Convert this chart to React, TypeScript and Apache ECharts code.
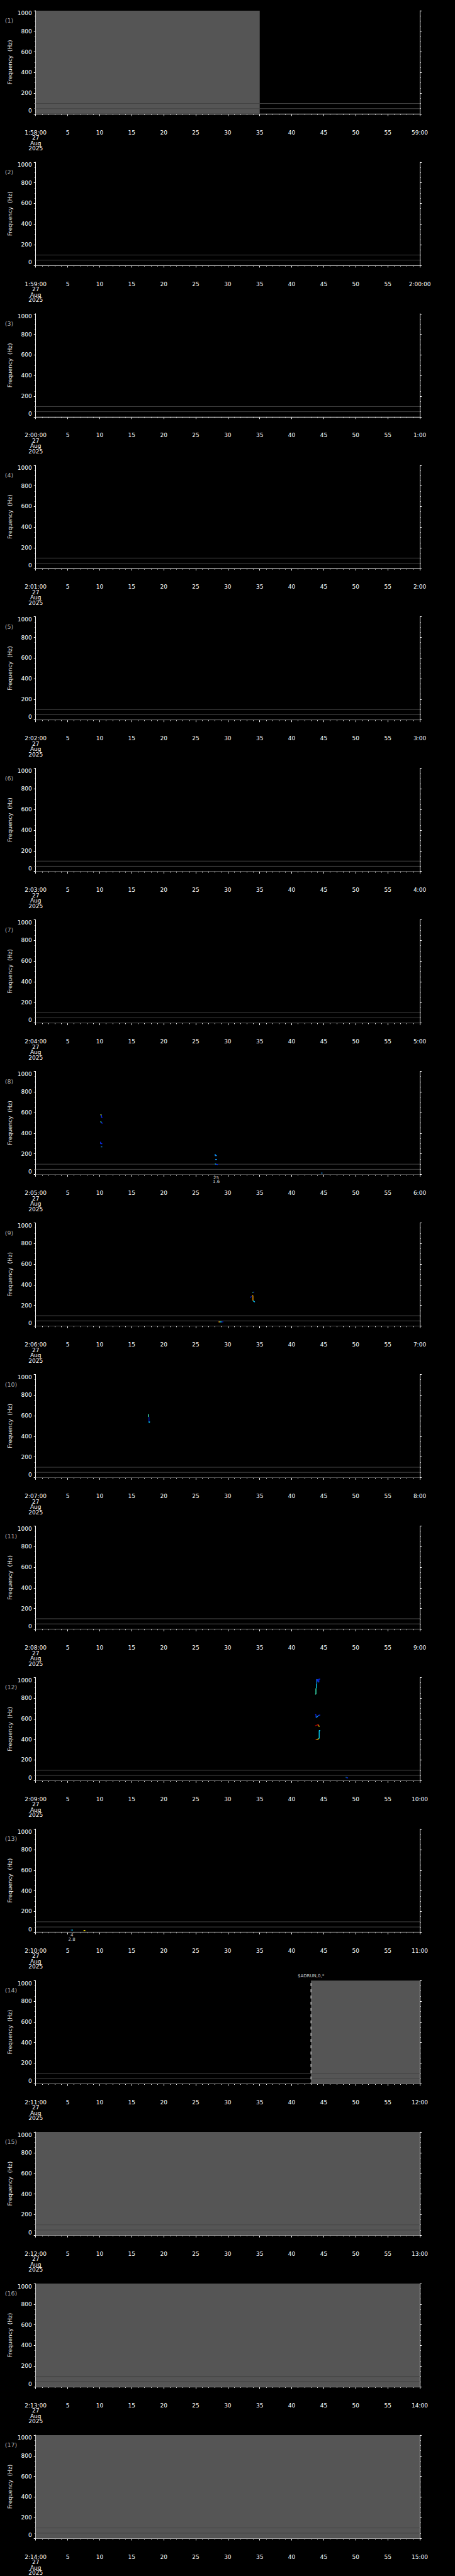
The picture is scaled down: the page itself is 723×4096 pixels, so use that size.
import React, { useEffect, useRef } from "react";
import * as echarts from "echarts";

// ---------- data ----------
const PANEL_COUNT = 17;
const startLabels = [
  "1:58:00", "1:59:00", "2:00:00", "2:01:00", "2:02:00", "2:03:00", "2:04:00", "2:05:00", "2:06:00",
  "2:07:00", "2:08:00", "2:09:00", "2:10:00", "2:11:00", "2:12:00", "2:13:00", "2:14:00",
];
const endLabels = [
  "59:00", "2:00:00", "1:00", "2:00", "3:00", "4:00", "5:00", "6:00", "7:00",
  "8:00", "9:00", "10:00", "11:00", "12:00", "13:00", "14:00", "15:00",
];
const dateLines = ["27", "Aug", "2025"];
const yTitle = "Frequency  (Hz)";

// grey "no data" blocks: [panel, fromSec, toSec]
const greyBlocks: [number, number, number][] = [
  [1, 0, 35],
  [14, 43, 60],
  [15, 0, 60],
  [16, 0, 60],
  [17, 0, 60],
];
// reference lines (Hz)
const refLinesHz = [0, 50, 100];
// dashed marker lines: [panel, sec]
const dashedMarkers: [number, number][] = [[14, 43]];
// text markers above plot: [panel, sec, text]
const topTexts: [number, number, string][] = [[14, 43, "$ADRUN,0,*"]];
// event labels below plot: [panel, sec, line1, line2]
const eventLabels: [number, number, string, string][] = [
  [8, 28.2, "25", "1.6"],
  [13, 5.65, "4", "2.8"],
];

const C = {
  blue: "#0a2cff",
  dblue: "#0010d0",
  lblue: "#1496ff",
  cyan: "#00d8ff",
  aqua: "#40ffc8",
  green: "#50ff80",
  ygreen: "#c0ff40",
  yellow: "#ffe600",
  orange: "#ffa000",
  red: "#e81000",
  dred: "#a00000",
};

type Mark = { p: number; c: string; pts: [number, number][] };

const panel8Marks: Mark[] = [
  { p: 8, c: C.ygreen, pts: [[10.1, 578], [10.3, 578]] },
  { p: 8, c: C.blue, pts: [[10.27, 576], [10.27, 555], [10.42, 555]] },
  { p: 8, c: C.aqua, pts: [[10.1, 510], [10.27, 510]] },
  { p: 8, c: C.blue, pts: [[10.27, 508], [10.32, 498], [10.47, 498]] },
  { p: 8, c: C.blue, pts: [[10.14, 318], [10.14, 299], [10.4, 299]] },
  { p: 8, c: C.lblue, pts: [[10.18, 268], [10.4, 268]] },
  { p: 8, c: C.lblue, pts: [[28.04, 199], [28.04, 183], [28.3, 183]] },
  { p: 8, c: C.lblue, pts: [[28.04, 146], [28.32, 146]] },
  { p: 8, c: C.cyan, pts: [[28.0, 104], [28.15, 100]] },
  { p: 8, c: C.blue, pts: [[28.15, 100], [28.44, 96]] },
  { p: 8, c: C.lblue, pts: [[44.6, 14], [44.8, 14]] },
];

const panel9Marks: Mark[] = [
  { p: 9, c: C.green, pts: [[33.87, 325], [33.98, 325]] },
  { p: 9, c: C.blue, pts: [[33.98, 326], [34.15, 331]] },
  { p: 9, c: C.orange, pts: [[33.8, 294], [33.94, 294], [33.94, 247]] },
  { p: 9, c: C.blue, pts: [[33.53, 276], [33.6, 281], [33.71, 287]] },
  { p: 9, c: C.cyan, pts: [[33.94, 247], [34.05, 240], [34.22, 236]] },
  { p: 9, c: C.lblue, pts: [[34.18, 236], [34.2, 231]] },
  { p: 9, c: C.red, pts: [[28.51, 40], [28.6, 40]] },
  { p: 9, c: C.yellow, pts: [[28.6, 40], [28.78, 40]] },
  { p: 9, c: C.cyan, pts: [[28.78, 40], [29.06, 40]] },
  { p: 9, c: C.dblue, pts: [[29.06, 40], [29.32, 40]] },
];

const panel10Marks: Mark[] = [
  { p: 10, c: C.aqua, pts: [[17.56, 611], [17.63, 611], [17.66, 587], [17.7, 587]] },
  { p: 10, c: C.dblue, pts: [[17.7, 587], [17.7, 539]] },
  { p: 10, c: C.cyan, pts: [[17.62, 539], [17.86, 539]] },
  { p: 10, c: C.cyan, pts: [[17.74, 539], [17.74, 532]] },
];

const panel12Marks: Mark[] = [
  { p: 12, c: C.lblue, pts: [[43.92, 984], [43.92, 938]] },
  { p: 12, c: C.cyan, pts: [[43.85, 938], [43.85, 895]] },
  { p: 12, c: C.aqua, pts: [[43.78, 895], [43.78, 840], [43.66, 838]] },
  { p: 12, c: C.blue, pts: [[44.05, 984], [44.05, 961]] },
  { p: 12, c: C.blue, pts: [[44.24, 953], [44.24, 984], [44.45, 984]] },
  { p: 12, c: C.cyan, pts: [[44.13, 956], [44.2, 956]] },
  { p: 12, c: C.blue, pts: [[43.66, 640], [43.78, 640], [43.8, 611]] },
  { p: 12, c: C.lblue, pts: [[43.8, 611], [44.0, 620], [44.2, 633]] },
  { p: 12, c: C.blue, pts: [[44.2, 633], [44.45, 636]] },
  { p: 12, c: C.dred, pts: [[43.66, 531], [43.78, 534], [43.92, 537]] },
  { p: 12, c: C.red, pts: [[43.92, 537], [44.06, 541], [44.2, 541]] },
  { p: 12, c: C.orange, pts: [[44.2, 541], [44.24, 531]] },
  { p: 12, c: C.yellow, pts: [[44.24, 529], [44.3, 521]] },
  { p: 12, c: C.cyan, pts: [[44.45, 485], [44.29, 485], [44.29, 410]] },
  { p: 12, c: C.aqua, pts: [[44.29, 410], [44.2, 405]] },
  { p: 12, c: C.yellow, pts: [[44.2, 405], [44.0, 400]] },
  { p: 12, c: C.orange, pts: [[44.0, 400], [43.85, 398]] },
  { p: 12, c: C.red, pts: [[43.85, 398], [43.72, 395]] },
  { p: 12, c: C.cyan, pts: [[48.45, 31], [48.55, 31]] },
  { p: 12, c: C.blue, pts: [[48.55, 27], [48.8, 27]] },
];

const panel13Marks: Mark[] = [
  { p: 13, c: C.red, pts: [[5.41, 20], [5.46, 20]] },
  { p: 13, c: C.blue, pts: [[5.48, 20], [5.55, 20]] },
  { p: 13, c: C.cyan, pts: [[5.58, 20], [5.81, 20]] },
  { p: 13, c: C.yellow, pts: [[7.48, 15.5], [7.75, 15.5]] },
];

const allMarks: Mark[] = [...panel8Marks, ...panel9Marks, ...panel10Marks, ...panel12Marks, ...panel13Marks];

// ---------- layout ----------
const W = 723;
const H = 4096;
const PITCH = H / PANEL_COUNT;
const TOP0 = 16.94;
const GRID_LEFT = 56.7;
const GRID_W = 610.3;
const GRID_H = 164;
const AXIS_OFFSET = 17.4;
const FONT = "'DejaVu Sans', 'Liberation Sans', sans-serif";
const WHITE = "#ffffff";
const GREY_FILL = "#555555";
const LINE_GREY = "#444444";

function buildOption() {
  const grid: any[] = [];
  const xAxis: any[] = [];
  const yAxis: any[] = [];
  const series: any[] = [];
  const graphic: any[] = [];

  for (let i = 0; i < PANEL_COUNT; i++) {
    const top = TOP0 + i * PITCH;
    grid.push({ left: GRID_LEFT, top, width: GRID_W, height: GRID_H, containLabel: false });
    xAxis.push({
      gridIndex: i,
      type: "value",
      min: 0,
      max: 60,
      interval: 5,
      position: "bottom",
      offset: AXIS_OFFSET,
      axisLine: { show: true, lineStyle: { color: WHITE, width: 1 } },
      axisTick: { show: true, inside: false, length: 3.5, lineStyle: { color: WHITE, width: 1 } },
      minorTick: { show: true, splitNumber: 5, length: 1.8, lineStyle: { color: WHITE, width: 1 } },
      splitLine: { show: false },
      minorSplitLine: { show: false },
      axisLabel: {
        show: true,
        color: WHITE,
        fontFamily: FONT,
        fontSize: 9,
        lineHeight: 8.5,
        margin: 8,
        formatter: (v: number) =>
          v === 0 ? [startLabels[i], ...dateLines].join("\n") : v === 60 ? endLabels[i] : String(v),
      },
    });
    const yBase = {
      gridIndex: i,
      type: "value",
      min: 0,
      max: 1000,
      interval: 200,
      axisLine: { show: true, onZero: false, lineStyle: { color: WHITE, width: 1 } },
      axisTick: { show: true, inside: false, length: 3, lineStyle: { color: WHITE, width: 1 } },
      minorTick: { show: true, splitNumber: 4, length: 1.6, lineStyle: { color: WHITE, width: 1 } },
      splitLine: { show: false },
      minorSplitLine: { show: false },
    };
    yAxis.push({
      ...yBase,
      position: "left",
      axisLabel: {
        show: true,
        color: WHITE,
        fontFamily: FONT,
        fontSize: 9,
        margin: 6,
        formatter: (v: number) => String(v),
        verticalAlignMinLabel: "bottom",
        verticalAlignMaxLabel: "top",
      },
    });
    yAxis.push({ ...yBase, position: "right", axisLabel: { show: false } });

    graphic.push({
      type: "text",
      left: 7.8,
      top: top + 16.7 - 6,
      style: { text: `(${i + 1})`, fill: "#a8a8a8", font: `9.5px ${FONT}` },
      silent: true,
    });
    graphic.push({
      type: "text",
      x: 16.2,
      y: top + GRID_H / 2,
      rotation: Math.PI / 2,
      style: {
        text: yTitle,
        fill: "#e8e8e8",
        font: `9px ${FONT}`,
        align: "center",
        verticalAlign: "middle",
      },
      silent: true,
    });

    // grey blocks (full-height areas between two times)
    const blocks = greyBlocks.filter((b) => b[0] === i + 1);
    if (blocks.length) {
      series.push({
        type: "line",
        xAxisIndex: i,
        yAxisIndex: 2 * i,
        z: 1,
        silent: true,
        symbol: "none",
        data: [],
        markArea: {
          silent: true,
          itemStyle: { color: GREY_FILL, opacity: 1, borderWidth: 0 },
          label: { show: false },
          emphasis: { disabled: true },
          data: blocks.map((b) => [
            { xAxis: b[1], yAxis: 0 },
            { xAxis: b[2], yAxis: 1000 },
          ]),
        },
      });
    }

    // reference lines
    refLinesHz.forEach((hz) => {
      series.push({
        type: "line",
        xAxisIndex: i,
        yAxisIndex: 2 * i,
        z: 3,
        silent: true,
        clip: false,
        symbol: "none",
        data: [[0, hz], [60, hz]],
        lineStyle: { color: LINE_GREY, width: 1 },
      });
    });

    // dashed markers
    dashedMarkers
      .filter((d) => d[0] === i + 1)
      .forEach((d) => {
        series.push({
          type: "line",
          xAxisIndex: i,
          yAxisIndex: 2 * i,
          z: 6,
          silent: true,
          clip: false,
          symbol: "none",
          data: [[d[1], 1000], [d[1], 0]],
          lineStyle: { color: WHITE, width: 1, type: [4.7, 5.2], dashOffset: -4 },
        });
      });

    // top texts
    topTexts
      .filter((d) => d[0] === i + 1)
      .forEach((d) => {
        series.push({
          type: "scatter",
          xAxisIndex: i,
          yAxisIndex: 2 * i,
          z: 7,
          silent: true,
          clip: false,
          symbolSize: 1,
          itemStyle: { color: "rgba(0,0,0,0)" },
          data: [[d[1], 1000]],
          label: {
            show: true,
            position: "top",
            distance: 3,
            color: WHITE,
            fontFamily: FONT,
            fontSize: 7,
            lineHeight: 7,
            formatter: () => d[2],
          },
        });
      });

    // event labels
    eventLabels
      .filter((d) => d[0] === i + 1)
      .forEach((d) => {
        series.push({
          type: "scatter",
          xAxisIndex: i,
          yAxisIndex: 2 * i,
          z: 7,
          silent: true,
          clip: false,
          symbolSize: 1,
          itemStyle: { color: "rgba(0,0,0,0)" },
          data: [[d[1], 0]],
          label: {
            show: true,
            position: "bottom",
            distance: 1.5,
            color: WHITE,
            fontFamily: FONT,
            fontSize: 7,
            lineHeight: 6.4,
            formatter: () => `${d[2]}\n${d[3]}`,
          },
        });
      });

    // signal marks
    allMarks
      .filter((m) => m.p === i + 1)
      .forEach((m) => {
        series.push({
          type: "line",
          xAxisIndex: i,
          yAxisIndex: 2 * i,
          z: 5,
          silent: true,
          clip: false,
          symbol: "none",
          data: m.pts,
          lineStyle: { color: m.c, width: 1.3 },
        });
      });
  }

  return {
    animation: false,
    backgroundColor: "#000000",
    grid,
    xAxis,
    yAxis,
    series,
    graphic,
  };
}

export default function App() {
  const ref = useRef<HTMLDivElement>(null);
  useEffect(() => {
    document.body.style.margin = "0";
    document.body.style.background = "#000";
    if (!ref.current) return;
    const chart = echarts.init(ref.current, undefined, { renderer: "svg", width: W, height: H });
    chart.setOption(buildOption() as any);
    return () => chart.dispose();
  }, []);
  return (
    <div
      ref={ref}
      style={{ position: "absolute", left: 0, top: 0, width: W, height: H, background: "#000" }}
    />
  );
}
